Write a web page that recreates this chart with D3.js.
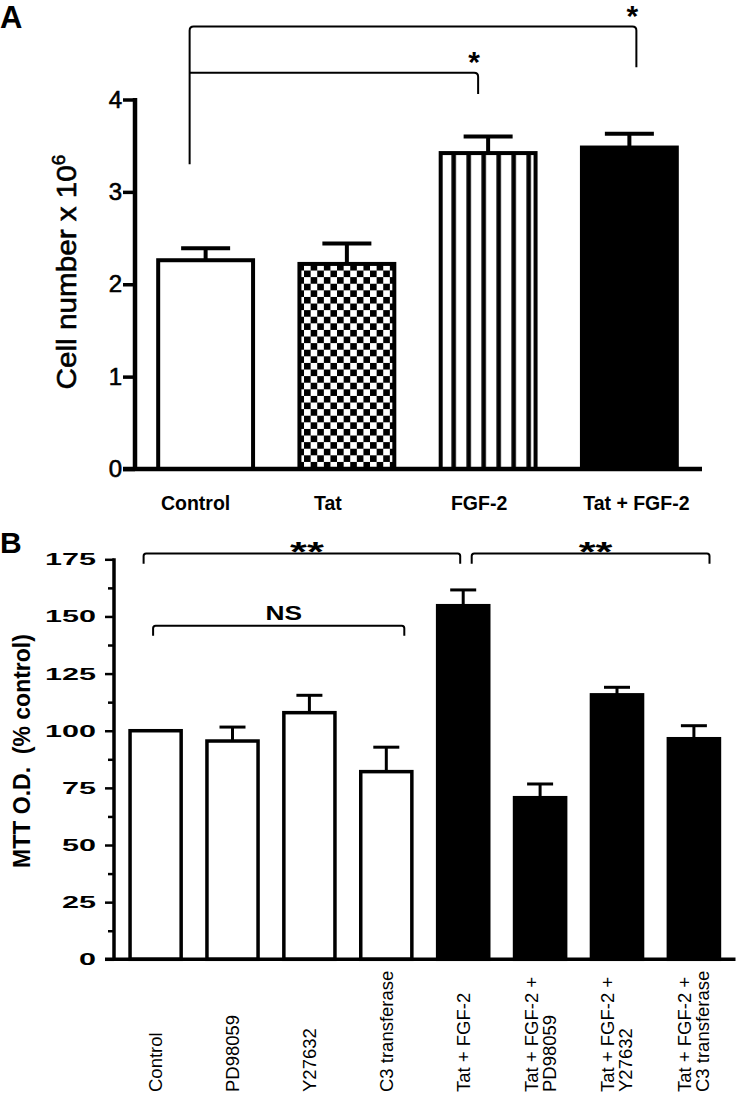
<!DOCTYPE html>
<html>
<head>
<meta charset="utf-8">
<script src="https://cdn.jsdelivr.net/npm/d3@7"></script>
<style>
  html, body { margin: 0; padding: 0; background: #fff; }
  svg { display: block; }
  text { font-family: "Liberation Sans", Arial, sans-serif; fill: #000; }
</style>
</head>
<body>
<svg id="chart" width="737" height="1101"></svg>
<script>
// ---------------- DATA ----------------
// Panel A
const categoriesA = ["Control", "Tat", "FGF-2", "Tat + FGF-2"];
const valuesA = [2.26, 2.22, 3.42, 3.48];
const errorsA = [0.13, 0.22, 0.18, 0.15];
const fillsA = ["white", "checker", "stripes", "black"];
const ticksA = [0, 1, 2, 3, 4];
const yTitleA = "Cell number x 10";
const yTitleSupA = "6";
// significance brackets, panel A: from/to category, level, left/right drop (data units)
const bracketFromA = ["Control", "Control"];
const bracketToA = ["Tat + FGF-2", "FGF-2"];
const bracketLevelA = [4.79, 4.29];
const bracketLeftEndA = [3.30, null];
const bracketRightEndA = [4.35, 4.06];
const bracketLabelA = ["*", "*"];

// Panel B
const categoriesB = ["Control", "PD98059", "Y27632", "C3 transferase",
  "Tat + FGF-2", "Tat + FGF-2 + PD98059", "Tat + FGF-2 + Y27632", "Tat + FGF-2 + C3 transferase"];
const labelLinesB = [["Control"], ["PD98059"], ["Y27632"], ["C3 transferase"],
  ["Tat + FGF-2"], ["Tat + FGF-2 +", "PD98059"], ["Tat + FGF-2 +", "Y27632"], ["Tat + FGF-2 +", "C3 transferase"]];
const valuesB = [100, 95.5, 107.9, 82.1, 154.7, 70.7, 115.7, 96.5];
const errorsB = [0, 6.1, 7.6, 10.7, 6.9, 6.0, 3.3, 5.7];
const fillsB = ["white", "white", "white", "white", "black", "black", "black", "black"];
const majorTicksB = [0, 25, 50, 75, 100, 125, 150, 175];
const minorTicksB = [12.5, 37.5, 62.5, 87.5, 112.5, 137.5, 162.5];
const yTitleB = "MTT O.D.  (% control)";
const bracketFromB = ["Control", "Tat + FGF-2", "Control"];
const bracketToB = ["Tat + FGF-2", "Tat + FGF-2 + C3 transferase", "C3 transferase"];
const bracketLevelB = [177.5, 177.5, 145.9];
const bracketDropB = [173, 173, 141.6];
const bracketLabelB = ["**", "**", "NS"];

// ---------------- LAYOUT ----------------
const svg = d3.select("#chart");
const defs = svg.append("defs");

// ===== Panel A =====
const xA = d3.scaleBand().domain(categoriesA).range([135, 700]).paddingInner(0.3).paddingOuter(0.15);
const yA = d3.scaleLinear().domain([0, 4]).range([469, 99.5]);
const swA = 4;
const bwA = xA.bandwidth();

// patterns
const checkCell = 6.6;
const checker = defs.append("pattern").attr("id", "checker").attr("patternUnits", "userSpaceOnUse")
  .attr("width", checkCell * 2).attr("height", checkCell * 2)
  .attr("x", xA("Tat")).attr("y", yA(valuesA[1]));
checker.append("rect").attr("width", checkCell * 2).attr("height", checkCell * 2).attr("fill", "#fff");
checker.append("rect").attr("width", checkCell).attr("height", checkCell).attr("fill", "#000");
checker.append("rect").attr("x", checkCell).attr("y", checkCell).attr("width", checkCell).attr("height", checkCell).attr("fill", "#000");

const stripeStep = 15;
const stripes = defs.append("pattern").attr("id", "stripes").attr("patternUnits", "userSpaceOnUse")
  .attr("width", stripeStep).attr("height", 10).attr("x", xA("FGF-2") + stripeStep / 2).attr("y", 0);
stripes.append("rect").attr("width", stripeStep).attr("height", 10).attr("fill", "#fff");
stripes.append("rect").attr("x", stripeStep / 2 - 2.25).attr("width", 4.5).attr("height", 10).attr("fill", "#000");

const fillMap = { white: "#fff", black: "#000", checker: "url(#checker)", stripes: "url(#stripes)" };

const gA = svg.append("g");

// bars A
gA.selectAll("rect.barA").data(categoriesA).join("rect")
  .attr("class", "barA")
  .attr("x", d => xA(d) + swA / 2)
  .attr("y", (d, i) => yA(valuesA[i]))
  .attr("width", bwA - swA)
  .attr("height", (d, i) => yA(0) - yA(valuesA[i]))
  .attr("fill", (d, i) => fillMap[fillsA[i]])
  .attr("stroke", "#000").attr("stroke-width", swA);

// error bars A
const capA = 49;
categoriesA.forEach((c, i) => {
  const cx = xA(c) + bwA / 2;
  const top = yA(valuesA[i] + errorsA[i]);
  gA.append("line").attr("x1", cx).attr("x2", cx).attr("y1", yA(valuesA[i])).attr("y2", top)
    .attr("stroke", "#000").attr("stroke-width", 4);
  gA.append("line").attr("x1", cx - capA / 2).attr("x2", cx + capA / 2).attr("y1", top).attr("y2", top)
    .attr("stroke", "#000").attr("stroke-width", 4);
});

// axes A
const axisYA = d3.axisLeft(yA).tickValues(ticksA).tickSize(12).tickPadding(1).tickFormat(d3.format("d"));
const gyA = gA.append("g").attr("transform", "translate(135,0)").call(axisYA);
gyA.select(".domain").remove();
gyA.selectAll(".tick line").attr("stroke", "#000").attr("stroke-width", 3.5);
gyA.selectAll(".tick text").attr("font-size", 24).attr("font-family", "Liberation Sans, Arial, sans-serif")
  .attr("fill", "#000").attr("stroke", "#000").attr("stroke-width", 0.6);
gA.append("line").attr("x1", 135).attr("x2", 135).attr("y1", yA(4) - 1.5).attr("y2", yA(0) + 2)
  .attr("stroke", "#000").attr("stroke-width", 4.5);
gA.append("line").attr("x1", 123).attr("x2", 702).attr("y1", yA(0)).attr("y2", yA(0))
  .attr("stroke", "#000").attr("stroke-width", 4.5);

// x labels A (small hand-placed offsets as in the original figure)
const labelDxA = [-10, -19, -9, 7];
gA.selectAll("text.xlabA").data(categoriesA).join("text")
  .attr("class", "xlabA")
  .attr("x", (d, i) => xA(d) + bwA / 2 + labelDxA[i])
  .attr("y", 510)
  .attr("text-anchor", "middle")
  .attr("font-size", 19.5).attr("font-weight", "bold")
  .text(d => d);

// y title A
const tA = gA.append("text").attr("transform", "translate(76,272) rotate(-90) scale(1.06,1)")
  .attr("text-anchor", "middle").attr("font-size", 28)
  .attr("stroke", "#000").attr("stroke-width", 0.6);
tA.append("tspan").text(yTitleA);
tA.append("tspan").attr("dy", -11).attr("font-size", 18).text(yTitleSupA);

// panel label A
svg.append("text").attr("x", 0).attr("y", 28).attr("font-size", 31).attr("font-weight", "bold").text("A");

// brackets A
const bracketDxA = [[-16, 7], [-16, -10]];
function bracketPath(x1, x2, yl, yLeft, yRight, r) {
  let p = "";
  if (yLeft !== null) p += `M${x1},${yLeft} L${x1},${yl + r} Q${x1},${yl} ${x1 + r},${yl}`;
  else p += `M${x1},${yl}`;
  p += ` L${x2 - r},${yl} Q${x2},${yl} ${x2},${yl + r} L${x2},${yRight}`;
  return p;
}
bracketFromA.forEach((f, i) => {
  const x1 = xA(f) + bwA / 2 + bracketDxA[i][0];
  const x2 = xA(bracketToA[i]) + bwA / 2 + bracketDxA[i][1];
  const yl = yA(bracketLevelA[i]);
  const yL = bracketLeftEndA[i] === null ? null : yA(bracketLeftEndA[i]);
  gA.append("path").attr("d", bracketPath(x1, x2, yl, yL, yA(bracketRightEndA[i]), 4))
    .attr("fill", "none").attr("stroke", "#000").attr("stroke-width", 2);
  gA.append("text").attr("x", x2 - 4).attr("y", yl - 0.5).attr("text-anchor", "middle")
    .attr("font-size", 30).attr("font-weight", "bold").text(bracketLabelA[i]);
});

// ===== Panel B =====
const xB = d3.scaleBand().domain(categoriesB).range([114, 735.5]).paddingInner(0.29).paddingOuter(0.186);
const yB = d3.scaleLinear().domain([0, 175]).range([959.3, 559.3]);
const bwB = xB.bandwidth();
const swB = 3.5;
const gB = svg.append("g");

gB.selectAll("rect.barB").data(categoriesB).join("rect")
  .attr("class", "barB")
  .attr("x", d => xB(d) + swB / 2)
  .attr("y", (d, i) => yB(valuesB[i]))
  .attr("width", bwB - swB)
  .attr("height", (d, i) => yB(0) - yB(valuesB[i]))
  .attr("fill", (d, i) => fillMap[fillsB[i]])
  .attr("stroke", "#000").attr("stroke-width", swB);

const capB = 26;
categoriesB.forEach((c, i) => {
  if (!errorsB[i]) return;
  const cx = xB(c) + bwB / 2;
  const top = yB(valuesB[i] + errorsB[i]);
  gB.append("line").attr("x1", cx).attr("x2", cx).attr("y1", yB(valuesB[i])).attr("y2", top)
    .attr("stroke", "#000").attr("stroke-width", 3);
  gB.append("line").attr("x1", cx - capB / 2).attr("x2", cx + capB / 2).attr("y1", top).attr("y2", top)
    .attr("stroke", "#000").attr("stroke-width", 3);
});

// axes B
const axisYB = d3.axisLeft(yB).tickValues(majorTicksB).tickSize(9).tickFormat("");
const gyB = gB.append("g").attr("transform", "translate(114,0)").call(axisYB);
gyB.select(".domain").remove();
gyB.selectAll(".tick line").attr("stroke", "#000").attr("stroke-width", 2.5);
const axisYBm = d3.axisLeft(yB).tickValues(minorTicksB).tickSize(6).tickFormat("");
const gyBm = gB.append("g").attr("transform", "translate(114,0)").call(axisYBm);
gyBm.select(".domain").remove();
gyBm.selectAll(".tick line").attr("stroke", "#000").attr("stroke-width", 2.5);
majorTicksB.forEach(t => {
  gB.append("text").attr("transform", `translate(96,${yB(t)}) scale(1.85,1)`)
    .attr("text-anchor", "end").attr("dy", "0.36em")
    .attr("font-size", 16.5).attr("font-weight", "bold").text(t);
});
gB.append("line").attr("x1", 114).attr("x2", 114).attr("y1", yB(175) - 1).attr("y2", yB(0) + 1.5)
  .attr("stroke", "#000").attr("stroke-width", 3.5);
gB.append("line").attr("x1", 105).attr("x2", 735.5).attr("y1", yB(0)).attr("y2", yB(0))
  .attr("stroke", "#000").attr("stroke-width", 3.5);

// x labels B (rotated)
categoriesB.forEach((c, i) => {
  const lines = labelLinesB[i];
  const cx = xB(c) + bwB / 2;
  const n = lines.length;
  lines.forEach((ln, j) => {
    const off = (j - (n - 1) / 2) * 18;
    gB.append("text")
      .attr("transform", `translate(${cx + off + 6.5},1092) rotate(-90)`)
      .attr("text-anchor", "start")
      .attr("font-size", 18.5)
      .text(ln);
  });
});

// y title B
gB.append("text").attr("transform", "translate(30,751) rotate(-90)")
  .attr("text-anchor", "middle").attr("font-size", 23).attr("font-weight", "bold")
  .style("white-space", "pre").text(yTitleB);

// panel label B
svg.append("text").attr("x", 0).attr("y", 553).attr("font-size", 30).attr("font-weight", "bold").text("B");

// brackets B
const bracketDxB = [[-12, -3], [8.5, 15.6], [-2.5, 18]];
bracketFromB.forEach((f, i) => {
  const x1 = xB(f) + bwB / 2 + bracketDxB[i][0];
  const x2 = xB(bracketToB[i]) + bwB / 2 + bracketDxB[i][1];
  const yl = yB(bracketLevelB[i]);
  const yd = yB(bracketDropB[i]);
  gB.append("path").attr("d", bracketPath(x1, x2, yl, yd, yd, 2.5))
    .attr("fill", "none").attr("stroke", "#000").attr("stroke-width", 2);
  const mx = (x1 + x2) / 2 + 5;
  if (bracketLabelB[i] === "NS") {
    gB.append("text").attr("transform", `translate(${mx},${yl - 6}) scale(1.35,1)`)
      .attr("text-anchor", "middle").attr("font-size", 19.5).attr("font-weight", "bold").text(bracketLabelB[i]);
  } else {
    gB.append("text").attr("transform", `translate(${mx},${yl + 7}) scale(1.55,1)`)
      .attr("text-anchor", "middle").attr("font-size", 28).attr("font-weight", "bold").text(bracketLabelB[i]);
  }
});
</script>
</body>
</html>
